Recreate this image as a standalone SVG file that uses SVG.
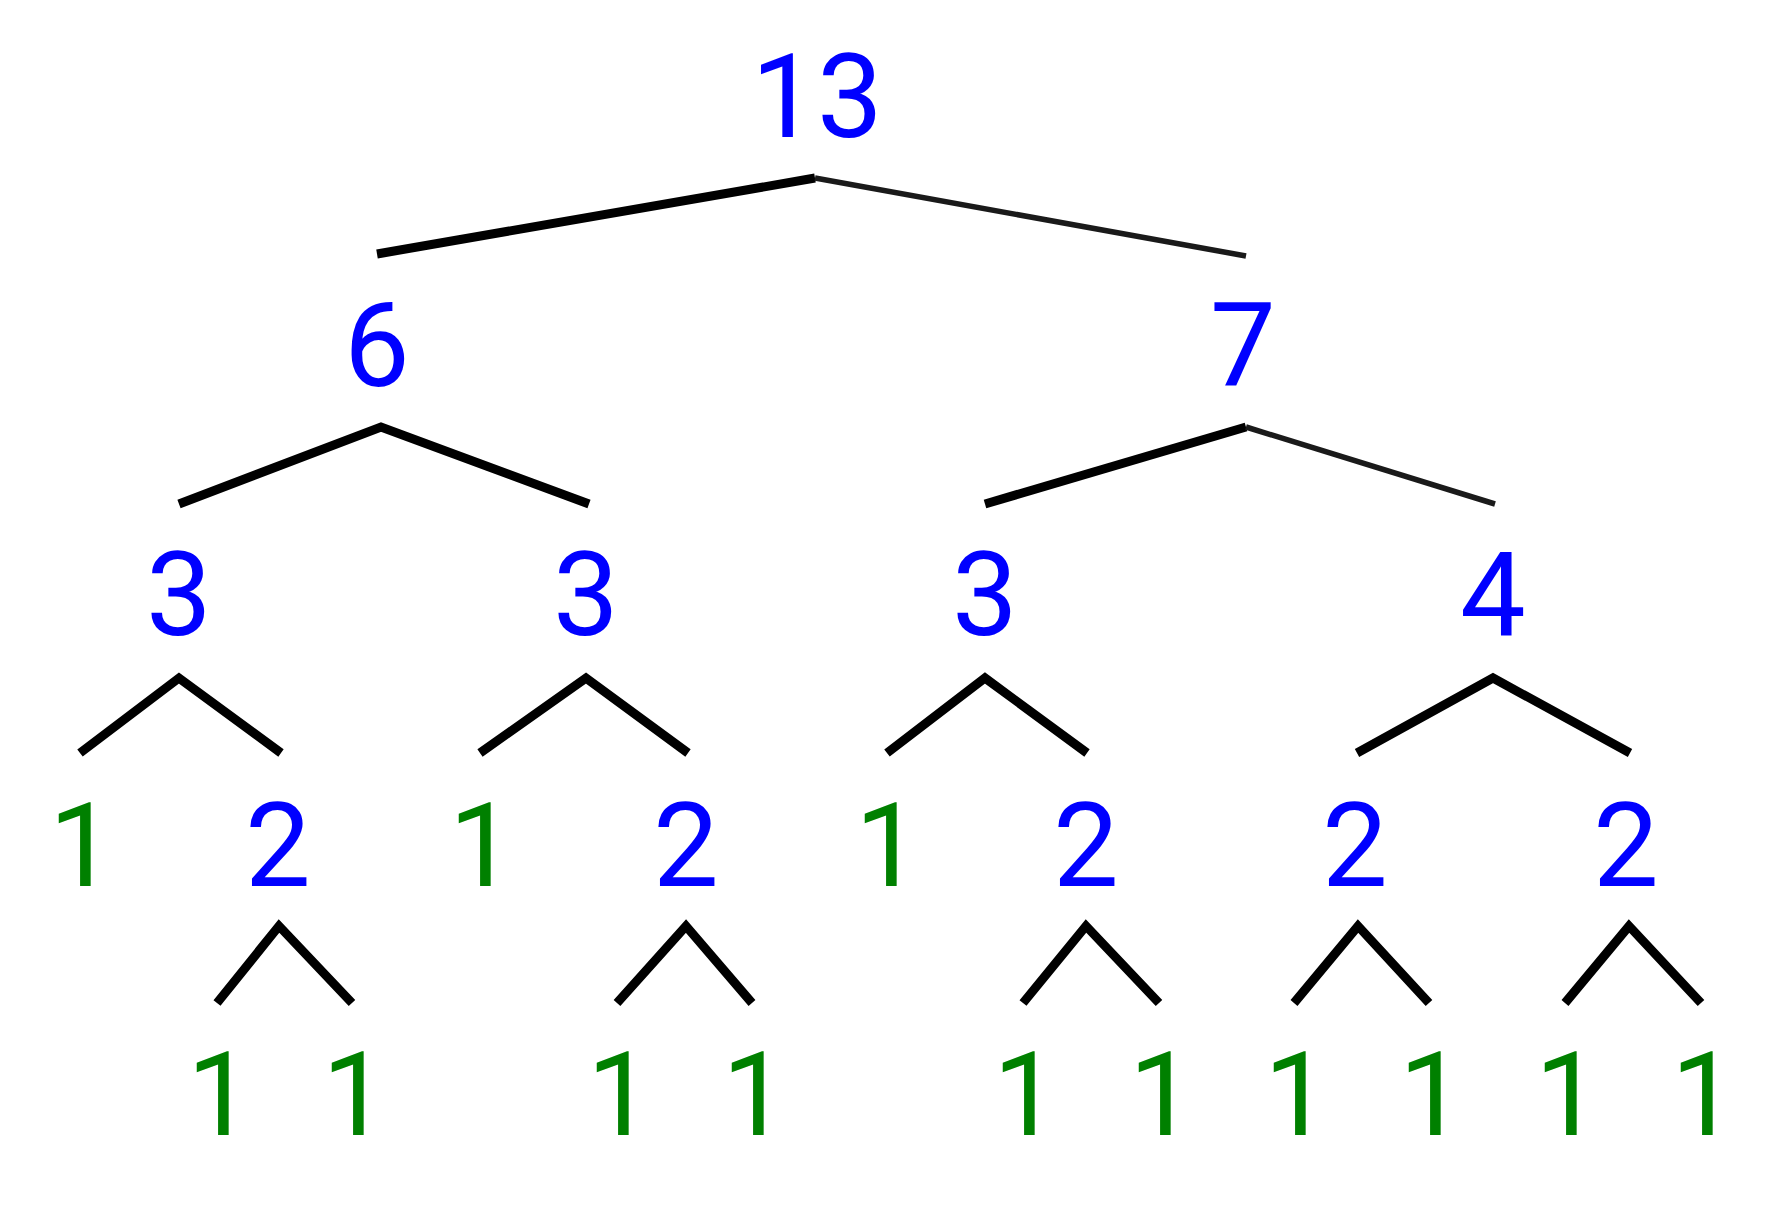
<svg xmlns="http://www.w3.org/2000/svg" width="1792" height="1205" viewBox="0 0 1792 1205">
<style>
text{font-family:Roboto,"Liberation Sans",Arial,sans-serif;font-size:117px;text-anchor:middle}
.b{fill:#0000ff}
.g{fill:#008000}
.e{fill:none;stroke:#000;stroke-width:9;stroke-linejoin:miter;stroke-linecap:butt}
.t{stroke-width:5.5;stroke:#1a1a1a}
</style>
<rect width="1792" height="1205" fill="#fff"/>
<g id="connectors">
<polyline class="e" points="377,254 815,178"/>
<polyline class="e t" points="815,178 1246,256"/>
<polyline class="e" points="179,504 381,427 589,504"/>
<polyline class="e" points="985,504 1246,427"/>
<polyline class="e t" points="1246,427 1495,504"/>
<polyline class="e" points="80,753 179,678 281,753"/>
<polyline class="e" points="480,753 586,678 688,753"/>
<polyline class="e" points="887,753 985,678 1087,753"/>
<polyline class="e" points="1357,753 1493,678 1630,753"/>
<polyline class="e" points="217,1003 279,926 352,1003"/>
<polyline class="e" points="617,1003 686,926 752,1003"/>
<polyline class="e" points="1023,1003 1086,926 1159,1003"/>
<polyline class="e" points="1294,1003 1358,926 1429,1003"/>
<polyline class="e" points="1565,1003 1629,926 1701,1003"/>
</g>
<g id="n13"><text class="b" x="817" y="137">13</text></g>
<g id="n6"><text class="b" x="377" y="386">6</text></g>
<g id="n7"><text class="b" x="1243" y="386">7</text></g>
<g id="n3a"><text class="b" x="179" y="635">3</text></g>
<g id="n3b"><text class="b" x="586" y="635">3</text></g>
<g id="n3c"><text class="b" x="985" y="635">3</text></g>
<g id="n4"><text class="b" x="1493" y="635">4</text></g>
<g id="n1a"><text class="g" x="82" y="886">1</text></g>
<g id="n2a"><text class="b" x="278" y="886">2</text></g>
<g id="n1b"><text class="g" x="482" y="886">1</text></g>
<g id="n2b"><text class="b" x="686" y="886">2</text></g>
<g id="n1c"><text class="g" x="888" y="886">1</text></g>
<g id="n2c"><text class="b" x="1086" y="886">2</text></g>
<g id="n2d"><text class="b" x="1355" y="886">2</text></g>
<g id="n2e"><text class="b" x="1626" y="886">2</text></g>
<g id="l1"><text class="g" x="220" y="1135">1</text></g>
<g id="l2"><text class="g" x="355" y="1135">1</text></g>
<g id="l3"><text class="g" x="620" y="1135">1</text></g>
<g id="l4"><text class="g" x="755" y="1135">1</text></g>
<g id="l5"><text class="g" x="1026" y="1135">1</text></g>
<g id="l6"><text class="g" x="1162" y="1135">1</text></g>
<g id="l7"><text class="g" x="1297" y="1135">1</text></g>
<g id="l8"><text class="g" x="1432" y="1135">1</text></g>
<g id="l9"><text class="g" x="1568" y="1135">1</text></g>
<g id="l10"><text class="g" x="1704" y="1135">1</text></g>
</svg>
